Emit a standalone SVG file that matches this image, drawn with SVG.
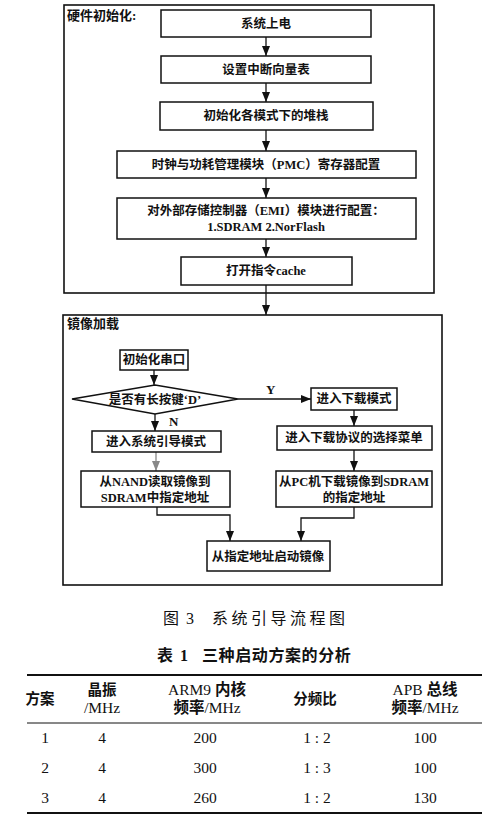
<svg xmlns="http://www.w3.org/2000/svg" width="500" height="822" viewBox="0 0 500 822">
<defs>
<marker id="ah" markerUnits="userSpaceOnUse" markerWidth="10" markerHeight="10" viewBox="0 0 10 10" refX="10" refY="5" orient="auto">
<path d="M0,1 L10,5 L0,9 Z" fill="#111"/>
</marker>
<marker id="ahg" markerUnits="userSpaceOnUse" markerWidth="10" markerHeight="10" viewBox="0 0 10 10" refX="10" refY="5" orient="auto">
<path d="M0,1 L10,5 L0,9 Z" fill="#888"/>
</marker>
</defs>
<style>
.frame{fill:none;stroke:#111;stroke-width:1.6}
.box{fill:#fff;stroke:#111;stroke-width:1.5}
.t{font-family:"Liberation Serif","Noto Sans CJK SC",serif;font-size:12.5px;font-weight:bold;fill:#111;text-anchor:middle}
.lbl{font-family:"Liberation Serif","Noto Sans CJK SC",serif;font-size:13px;font-weight:bold;fill:#111}
.c{fill:none;stroke:#111;stroke-width:1.3;marker-end:url(#ah)}
.cg{fill:none;stroke:#888;stroke-width:1.3;marker-end:url(#ahg)}
.cap{font-family:"Liberation Serif","Noto Sans CJK SC",serif;font-size:16px;fill:#111}
.tb{font-family:"Liberation Serif","Noto Sans CJK SC",serif;font-size:15.5px;fill:#111;text-anchor:middle}
.th{font-family:"Liberation Serif","Noto Sans CJK SC",serif;font-size:14.5px;fill:#111;text-anchor:middle;font-weight:bold}
.rule{stroke:#111}
</style>
<rect width="500" height="822" fill="#fff"/>

<g id="hw-init">
<rect class="frame" x="64" y="5" width="370" height="288"/>
<text class="lbl" x="67" y="20">硬件初始化:</text>
</g>
<g id="image-load">
<rect class="frame" x="63" y="315" width="379" height="270"/>
<text class="lbl" x="67" y="328">镜像加载</text>
</g>

<g id="connectors">
<path class="c" d="M266,37 V56"/>
<path class="c" d="M266,83 V102"/>
<path class="c" d="M266,130 V151"/>
<path class="c" d="M266,178 V198"/>
<path class="c" d="M266,239 V257"/>
<path class="c" d="M266,285 V315"/>
<path class="c" d="M154,370 V385"/>
<path class="c" d="M238,399 H311"/>
<path class="c" d="M155,414 V431"/>
<path class="cg" d="M156,452 V471"/>
<path class="c" d="M157,507 V515 H230 V541"/>
<path class="c" d="M354,410 V426"/>
<path class="c" d="M354,450 V471"/>
<path class="c" d="M354,507 V518 H301 V541"/>
<text class="lbl" x="266" y="394" font-size="12">Y</text>
<text class="lbl" x="169" y="426" font-size="12">N</text>
</g>

<g id="n1"><rect class="box" x="161" y="10" width="210" height="27"/><text class="t" x="266" y="28">系统上电</text></g>
<g id="n2"><rect class="box" x="161" y="56" width="210" height="27"/><text class="t" x="266" y="74">设置中断向量表</text></g>
<g id="n3"><rect class="box" x="160" y="102" width="213" height="28"/><text class="t" x="266" y="120">初始化各模式下的堆栈</text></g>
<g id="n4"><rect class="box" x="117" y="151" width="299" height="27"/><text class="t" x="266" y="169">时钟与功耗管理模块（PMC）寄存器配置</text></g>
<g id="n5"><rect class="box" x="117" y="198" width="299" height="41"/><text class="t" x="266" y="215">对外部存储控制器（EMI）模块进行配置：</text><text class="t" x="266" y="231">1.SDRAM 2.NorFlash</text></g>
<g id="n6"><rect class="box" x="181" y="257" width="171" height="28"/><text class="t" x="266" y="275">打开指令cache</text></g>

<g id="n7"><rect class="box" x="120" y="350" width="68" height="20"/><text class="t" x="154" y="364">初始化串口</text></g>
<g id="n8"><path class="box" d="M72,399 L155,385 L238,399 L155,414 Z"/><text class="t" x="155" y="404">是否有长按键‘D’</text></g>
<g id="n9"><rect class="box" x="92" y="431" width="129" height="21"/><text class="t" x="156" y="446">进入系统引导模式</text></g>
<g id="n10"><rect class="box" x="81" y="471" width="149" height="36"/><text class="t" x="155" y="486">从NAND读取镜像到</text><text class="t" x="155" y="502">SDRAM中指定地址</text></g>
<g id="n11"><rect class="box" x="311" y="388" width="86" height="22"/><text class="t" x="354" y="403">进入下载模式</text></g>
<g id="n12"><rect class="box" x="277" y="426" width="155" height="24"/><text class="t" x="354" y="442">进入下载协议的选择菜单</text></g>
<g id="n13"><rect class="box" x="276" y="471" width="156" height="36"/><text class="t" x="354" y="486">从PC机下载镜像到SDRAM</text><text class="t" x="354" y="502">的指定地址</text></g>
<g id="n14"><rect class="box" x="207" y="541" width="123" height="30"/><text class="t" x="268" y="561">从指定地址启动镜像</text></g>

<g id="caption">
<text class="cap" x="163" y="624">图</text>
<text class="cap" x="186" y="624">3</text>
<text class="cap" x="212" y="624" letter-spacing="3.5">系统引导流程图</text>
<text class="cap" x="157" y="661" font-weight="bold">表</text>
<text class="cap" x="180" y="661" font-weight="bold">1</text>
<text class="cap" x="202" y="661" font-weight="bold" letter-spacing="0.6">三种启动方案的分析</text>
</g>

<g id="table">
<line class="rule" x1="27" y1="675" x2="482" y2="675" stroke-width="2"/>
<line class="rule" x1="27" y1="723" x2="482" y2="723" stroke-width="1"/>
<line class="rule" x1="27" y1="813" x2="482" y2="813" stroke-width="2"/>
<text class="th" x="40" y="704">方案</text>
<text class="th" x="102" y="695">晶振</text>
<text class="tb" x="102" y="713">/MHz</text>
<text class="tb" x="207" y="695">ARM9 <tspan font-weight="bold">内核</tspan></text>
<text class="tb" x="207" y="713"><tspan font-weight="bold">频率</tspan>/MHz</text>
<text class="th" x="315" y="704">分频比</text>
<text class="tb" x="425" y="695">APB <tspan font-weight="bold">总线</tspan></text>
<text class="tb" x="425" y="713"><tspan font-weight="bold">频率</tspan>/MHz</text>
<text class="tb" x="45" y="743">1</text><text class="tb" x="102" y="743">4</text><text class="tb" x="205" y="743">200</text><text class="tb" x="317" y="743">1 : 2</text><text class="tb" x="425" y="743">100</text>
<text class="tb" x="45" y="773">2</text><text class="tb" x="102" y="773">4</text><text class="tb" x="205" y="773">300</text><text class="tb" x="317" y="773">1 : 3</text><text class="tb" x="425" y="773">100</text>
<text class="tb" x="45" y="803">3</text><text class="tb" x="102" y="803">4</text><text class="tb" x="205" y="803">260</text><text class="tb" x="317" y="803">1 : 2</text><text class="tb" x="425" y="803">130</text>
</g>
</svg>
